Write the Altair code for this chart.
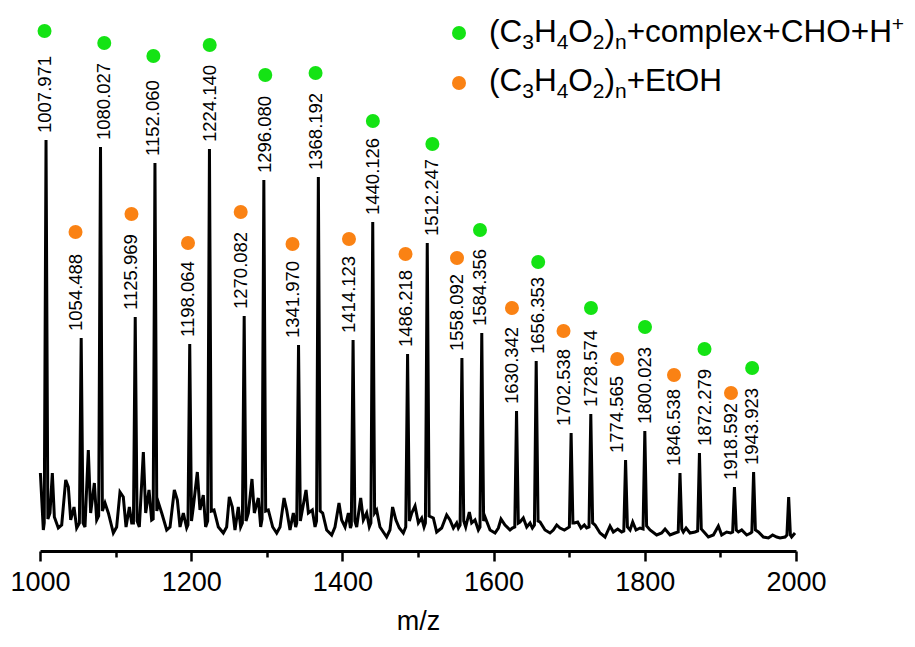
import altair as alt
import pandas as pd

FONT = "Liberation Sans"

# ---- spectrum trace (m/z, relative intensity) ----
spec_mz = [1000.5, 1004.4, 1005.6, 1007.97, 1010.4, 1013.2, 1016.3, 1019.0, 1024.2, 1028.7,
           1034.0, 1037.5, 1040.6, 1045.0, 1048.5, 1052.1, 1054.49, 1056.9, 1059.5, 1063.9,
           1067.0, 1071.9, 1075.0, 1077.6, 1080.03, 1082.5, 1086.0, 1090.4, 1097.0, 1101.4,
           1105.8, 1110.2, 1113.8, 1118.2, 1121.3, 1123.6, 1125.97, 1128.4, 1131.4, 1136.7,
           1139.8, 1144.2, 1147.7, 1149.7, 1152.06, 1154.5, 1156.8, 1161.0, 1167.6, 1172.0,
           1177.7, 1181.7, 1185.2, 1189.6, 1194.0, 1195.7, 1198.06, 1200.4, 1202.8, 1208.1,
           1211.6, 1216.0, 1219.1, 1221.8, 1224.14, 1226.6, 1230.2, 1235.9, 1242.5, 1246.9,
           1250.4, 1254.4, 1257.9, 1262.3, 1265.4, 1267.7, 1270.08, 1272.5, 1275.6, 1280.4,
           1283.5, 1288.8, 1291.9, 1293.7, 1296.08, 1298.5, 1302.0, 1307.8, 1313.1, 1317.5,
           1322.8, 1326.3, 1330.7, 1335.1, 1338.2, 1339.6, 1341.97, 1344.4, 1347.0, 1351.9,
           1355.0, 1360.2, 1363.8, 1365.8, 1368.19, 1370.6, 1373.9, 1379.2, 1385.8, 1390.2,
           1395.5, 1399.0, 1403.5, 1407.9, 1410.6, 1411.8, 1414.12, 1416.5, 1418.9, 1424.2,
           1427.7, 1432.1, 1435.6, 1437.7, 1440.13, 1442.6, 1445.3, 1449.7, 1458.5, 1462.9,
           1466.4, 1470.8, 1475.3, 1480.6, 1483.8, 1486.22, 1488.6, 1491.7, 1496.1, 1500.5,
           1504.9, 1508.0, 1509.8, 1512.25, 1514.7, 1520.3, 1524.7, 1531.3, 1537.9, 1542.3,
           1546.8, 1551.2, 1553.4, 1555.7, 1558.09, 1560.5, 1563.1, 1567.9, 1571.0, 1575.4,
           1579.8, 1582.0, 1584.36, 1586.8, 1588.6, 1595.3, 1601.9, 1606.3, 1609.8, 1615.1,
           1621.7, 1624.8, 1628.0, 1630.34, 1632.7, 1634.9, 1639.3, 1643.8, 1648.2, 1651.3,
           1654.0, 1656.35, 1658.8, 1661.4, 1668.0, 1674.6, 1679.0, 1683.5, 1687.9, 1693.6,
           1698.0, 1700.2, 1702.54, 1704.9, 1706.8, 1711.2, 1715.6, 1720.0, 1723.1, 1726.2,
           1728.57, 1731.0, 1734.2, 1740.8, 1747.4, 1754.0, 1758.4, 1764.1, 1769.4, 1772.2,
           1774.57, 1777.0, 1780.5, 1784.0, 1788.4, 1793.7, 1797.7, 1800.02, 1802.4, 1806.9,
           1815.7, 1822.3, 1826.8, 1833.4, 1840.0, 1844.2, 1846.54, 1848.9, 1851.0, 1854.6,
           1859.8, 1866.4, 1869.9, 1872.28, 1874.7, 1878.3, 1884.1, 1890.7, 1897.3, 1901.7,
           1908.3, 1913.6, 1916.2, 1918.59, 1921.0, 1923.8, 1928.2, 1934.8, 1940.1, 1941.6,
           1943.92, 1946.3, 1950.3, 1956.9, 1963.5, 1969.1, 1974.5, 1978.9, 1985.5, 1988.0,
           1990.3, 1992.6, 1994.2, 1998.7]
spec_int = [78, 21, 28, 411, 32, 38, 78, 34, 23, 26,
            71, 64, 31, 44, 23, 28, 213, 28, 24, 101,
            38, 68, 31, 35, 404, 40, 48, 38, 18, 24,
            59, 54, 24, 44, 28, 28, 234, 30, 24, 99,
            38, 61, 31, 32, 388, 40, 48, 38, 21, 24,
            61, 51, 24, 38, 23, 26, 207, 30, 44, 79,
            41, 56, 24, 30, 402, 40, 41, 24, 18, 24,
            54, 44, 21, 44, 24, 28, 235, 30, 38, 72,
            38, 53, 24, 32, 371, 40, 41, 24, 18, 24,
            53, 41, 21, 38, 24, 28, 206, 30, 41, 61,
            38, 41, 24, 30, 374, 40, 38, 21, 16, 24,
            48, 31, 24, 38, 23, 26, 211, 30, 24, 53,
            31, 38, 24, 28, 329, 38, 41, 24, 14, 21,
            44, 31, 23, 18, 24, 197, 30, 38, 45, 28,
            33, 24, 28, 308, 35, 33, 19, 23, 36, 31,
            23, 28, 23, 26, 193, 30, 24, 39, 28, 31,
            21, 24, 218, 30, 34, 21, 18, 23, 32, 26,
            21, 23, 24, 140, 28, 29, 33, 24, 28, 23,
            26, 190, 30, 29, 21, 18, 21, 26, 23, 21,
            23, 24, 118, 28, 28, 29, 23, 26, 23, 24,
            137, 28, 26, 18, 14, 25, 19, 22, 19, 20,
            91, 24, 21, 29, 21, 23, 22, 120, 25, 21,
            16, 18, 22, 16, 18, 19, 78, 22, 19, 23,
            18, 19, 20, 98, 22, 19, 14, 16, 25, 16,
            19, 18, 19, 64, 21, 19, 21, 16, 18, 19,
            79, 21, 19, 14, 13, 16, 14, 13, 14, 16,
            54, 16, 14, 18]

# ---- annotated peaks ----
green_labels = ["1007.971", "1080.027", "1152.060", "1224.140", "1296.080", "1368.192", "1440.126",
                "1512.247", "1584.356", "1656.353", "1728.574", "1800.023", "1872.279", "1943.923"]
green_peak_int = [411, 404, 388, 402, 371, 374, 329, 308, 218, 190, 137, 120, 98, 79]
green_ann_mz = [1006.0, 1085.0, 1150.0, 1224.5, 1298.0, 1364.5, 1440.3,
                1519.0, 1582.0, 1659.0, 1728.8, 1800.3, 1879.0, 1942.0]
green_dot_int = [520, 508, 495, 506, 476, 478, 430, 407, 321, 289, 243, 224, 202, 183]

orange_labels = ["1054.488", "1125.969", "1198.064", "1270.082", "1341.970", "1414.123", "1486.218",
                 "1558.092", "1630.342", "1702.538", "1774.565", "1846.538", "1918.592"]
orange_peak_int = [213, 234, 207, 235, 206, 211, 197, 193, 140, 118, 91, 78, 64]
orange_ann_mz = [1047.0, 1121.0, 1195.8, 1265.5, 1334.0, 1408.7, 1483.5,
                 1551.6, 1624.3, 1692.5, 1763.5, 1838.6, 1914.0]
orange_dot_int = [319, 337, 308, 339, 307, 312, 297, 293, 243, 220, 192, 176, 158]

series_names = ["complex", "EtOH"]
series_colors = ["#14e314", "#fa8214"]

tick_values = list(range(1000, 2001, 100))

# ---- tables ----
spec = pd.DataFrame({"mz": spec_mz, "int": spec_int})
ann = pd.concat([
    pd.DataFrame({"mz": green_ann_mz, "int": green_peak_int, "dot": green_dot_int,
                  "label": green_labels, "series": series_names[0]}),
    pd.DataFrame({"mz": orange_ann_mz, "int": orange_peak_int, "dot": orange_dot_int,
                  "label": orange_labels, "series": series_names[1]}),
])

W, H = 756, 531
xscale = alt.Scale(domain=[1000, 2000], nice=False, zero=False)
yscale = alt.Scale(domain=[0, 531], nice=False, zero=False)

xaxis = alt.Axis(
    values=tick_values, format="d",
    labelExpr="datum.value % 200 === 0 ? datum.label : ''",
    title="m/z", titleFont=FONT, titleFontSize=27, titleFontWeight="normal",
    titleColor="black", titlePadding=13,
    labelFont=FONT, labelFontSize=27, labelColor="black", labelPadding=8,
    labelFlush=False, labelOverlap=False,
    domainColor="black", domainWidth=3, tickColor="black", tickWidth=2.5,
    tickSize={"condition": {"test": "datum.value % 200 === 0", "value": 10}, "value": 6},
    grid=False)

line = alt.Chart(spec).mark_line(color="black", strokeWidth=3, strokeJoin="miter").encode(
    x=alt.X("mz:Q", scale=xscale, axis=xaxis),
    y=alt.Y("int:Q", scale=yscale, axis=None),
)

labels = alt.Chart(ann).mark_text(
    angle=270, align="left", baseline="middle", dx=7, font=FONT, fontSize=18.5, color="black"
).encode(
    x=alt.X("mz:Q", scale=xscale, axis=xaxis),
    y=alt.Y("int:Q", scale=yscale, axis=None),
    text="label:N",
)

dots = alt.Chart(ann).mark_point(filled=True, size=196, opacity=1, strokeWidth=0).encode(
    x=alt.X("mz:Q", scale=xscale, axis=xaxis),
    y=alt.Y("dot:Q", scale=yscale, axis=None),
    color=alt.Color("series:N", scale=alt.Scale(domain=series_names, range=series_colors), legend=None),
)

# ---- legend built from text pieces (subscripts / superscript) ----
ARIAL = {"(": 333, ")": 333, "C": 722, "H": 722, "O": 778, "+": 584, "c": 500, "o": 556,
         "m": 833, "p": 556, "l": 222, "e": 556, "x": 500, "E": 667, "t": 278, "n": 556,
         "2": 556, "3": 556, "4": 556}


def text_width(s, size):
    return sum(ARIAL.get(ch, 556) for ch in s) * size / 1000.0


MAIN, SUB = 31.5, 21
legend_rows = [
    [("(C", "n"), ("3", "sub"), ("H", "n"), ("4", "sub"), ("O", "n"), ("2", "sub"), (")", "n"),
     ("n", "sub"), ("+complex+CHO+H", "n"), ("+", "sup")],
    [("(C", "n"), ("3", "sub"), ("H", "n"), ("4", "sub"), ("O", "n"), ("2", "sub"), (")", "n"),
     ("n", "sub"), ("+EtOH", "n")],
]
legend_baselines = [22, 71]
legend_dot_y = [13, 63]
legend_x0 = 449
legend_dot_x = 419

legend_layers = []
for row, base, dy, color in zip(legend_rows, legend_baselines, legend_dot_y, series_colors):
    xcur = legend_x0
    for txt, kind in row:
        size = MAIN if kind == "n" else SUB
        yb = base + (7 if kind == "sub" else (-11 if kind == "sup" else 0))
        legend_layers.append(
            alt.Chart(pd.DataFrame({"t": [txt]})).mark_text(
                align="left", baseline="alphabetic", font=FONT, fontSize=size, color="black"
            ).encode(x=alt.value(xcur), y=alt.value(yb), text="t:N")
        )
        xcur += text_width(txt, size)
    legend_layers.append(
        alt.Chart(pd.DataFrame({"t": [color]})).mark_point(
            filled=True, size=196, opacity=1, strokeWidth=0, color=color
        ).encode(x=alt.value(legend_dot_x), y=alt.value(dy))
    )

chart = alt.layer(line, labels, dots, *legend_layers).properties(
    width=W, height=H,
    autosize=alt.AutoSizeParams(type="none"),
    padding={"left": 32, "top": 12, "right": 111, "bottom": 88},
).configure_view(stroke=None)

chart.save("out.html", embed_options={"renderer": "svg", "actions": False})
